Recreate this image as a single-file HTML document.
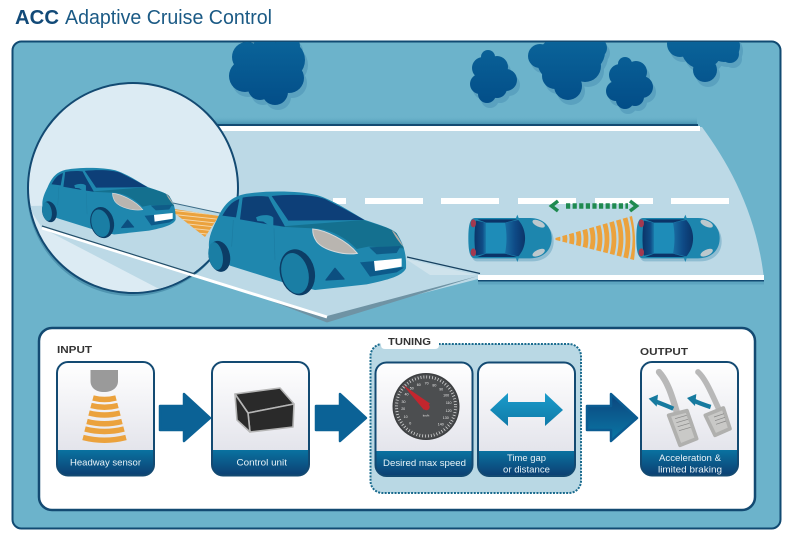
<!DOCTYPE html>
<html lang="en">
<head>
<meta charset="utf-8">
<title>ACC Adaptive Cruise Control</title>
<style>
html,body{margin:0;padding:0;background:#fff;width:800px;height:535px;overflow:hidden}
svg{display:block}
text{font-family:"Liberation Sans",sans-serif}
.lab{font-size:9.5px;fill:#e8f2f7}
.head{font-size:10.5px;font-weight:bold;fill:#333}
.num{font-size:3.6px;fill:#e8e8e8;text-anchor:middle}
</style>
</head>
<body>
<svg width="800" height="535" viewBox="0 0 800 535" xmlns="http://www.w3.org/2000/svg">
<defs>
  <linearGradient id="cloudG" gradientUnits="userSpaceOnUse" x1="0" y1="42" x2="0" y2="110"><stop offset="0" stop-color="#0a6399"/><stop offset="1" stop-color="#024c87"/></linearGradient>
  <linearGradient id="cardG" x1="0" y1="0" x2="0" y2="1"><stop offset="0" stop-color="#ffffff"/><stop offset="1" stop-color="#dcdde6"/></linearGradient>
  <linearGradient id="bandG" x1="0" y1="0" x2="0" y2="1"><stop offset="0" stop-color="#0a72a0"/><stop offset="1" stop-color="#0c3f72"/></linearGradient>
  <linearGradient id="arr3G" x1="0" y1="0" x2="0" y2="1"><stop offset="0" stop-color="#0c447c"/><stop offset="1" stop-color="#0a78a6"/></linearGradient>
  <linearGradient id="dblG" x1="0" y1="0" x2="0" y2="1"><stop offset="0" stop-color="#1b9ccb"/><stop offset="1" stop-color="#0f7aa8"/></linearGradient>
  <linearGradient id="wsG" x1="0" y1="0" x2="1" y2="0"><stop offset="0" stop-color="#0b3468"/><stop offset=".7" stop-color="#0f4c86"/><stop offset="1" stop-color="#1a7aaa"/></linearGradient>
  <linearGradient id="wsG2" x1="0" y1="0" x2="1" y2="0"><stop offset="0" stop-color="#1a6ea3"/><stop offset=".5" stop-color="#0e4a86"/><stop offset="1" stop-color="#0b3468"/></linearGradient>
  <linearGradient id="topShade" x1="0" y1="0" x2="0" y2="1"><stop offset="0" stop-color="#6cb3cb" stop-opacity="0"/><stop offset="1" stop-color="#3f8cac"/></linearGradient>
  <clipPath id="panelClip"><rect x="13" y="42" width="767" height="486" rx="8"/></clipPath>
  <clipPath id="circClip"><circle cx="133" cy="188" r="104"/></clipPath>
  <clipPath id="coneClip"><path d="M552,239 L632,216 Q637,238 634,260 Z"/></clipPath>
  <clipPath id="miniCone"><path d="M168,208 L219,216 L205,237 Z"/></clipPath>

  <g id="c1"><circle cx="247" cy="57" r="15"/><circle cx="245" cy="76" r="16"/><circle cx="266" cy="70" r="27"/><circle cx="285" cy="60" r="20"/><circle cx="289" cy="78" r="15"/><circle cx="275" cy="92" r="13"/><circle cx="260" cy="88" r="12"/><circle cx="290" cy="46" r="10"/><circle cx="265" cy="48" r="12"/></g>
  <g id="c2"><circle cx="488" cy="57" r="7"/><circle cx="483" cy="68" r="11"/><circle cx="497" cy="67" r="11"/><circle cx="506" cy="80" r="11"/><circle cx="480" cy="84" r="10"/><circle cx="493" cy="78" r="16"/><circle cx="487" cy="94" r="9"/><circle cx="497" cy="88" r="10"/></g>
  <g id="c3"><circle cx="540" cy="56" r="12"/><circle cx="560" cy="60" r="23"/><circle cx="585" cy="52" r="20"/><circle cx="597" cy="48" r="10"/><circle cx="585" cy="66" r="16"/><circle cx="568" cy="86" r="14"/><circle cx="555" cy="76" r="13"/></g>
  <g id="c4"><circle cx="625" cy="64" r="7"/><circle cx="620" cy="75" r="11"/><circle cx="636" cy="72" r="11"/><circle cx="642" cy="87" r="11"/><circle cx="616" cy="91" r="10"/><circle cx="630" cy="84" r="17"/><circle cx="625" cy="100" r="9"/><circle cx="635" cy="97" r="9"/></g>
  <g id="c5"><circle cx="680" cy="44" r="13"/><circle cx="702" cy="48" r="21"/><circle cx="724" cy="46" r="16"/><circle cx="705" cy="70" r="12"/><circle cx="730" cy="54" r="9"/></g>

  <g id="car">
    <path d="M28,195 C22,165 35,135 50,105 C70,60 90,38 130,28 C200,15 300,18 350,30 C400,45 450,80 495,105 C540,120 575,130 590,145 C610,175 620,205 618,250 C605,275 560,285 500,298 L345,315 L250,292 L90,242 L30,205 Z" fill="#1f87ae"/>
    <ellipse cx="58" cy="214" rx="32" ry="47" fill="#0c3d66" transform="rotate(-12 58 214)"/>
    <ellipse cx="47" cy="213" rx="21" ry="42" fill="#1a7ea4" transform="rotate(-10 47 213)"/>
    <path d="M235,125 L490,105 C540,122 575,130 590,145 L612,190 L505,185 L470,192 C430,150 380,130 340,130 Z" fill="#14708f"/>
    <path d="M215,33 C280,26 345,30 375,42 C420,65 460,85 493,105 L265,107 Z" fill="#0d3f78"/>
    <path d="M67,92 C85,60 100,48 118,42 L108,97 Z" fill="#0d4076"/>
    <path d="M128,38 C150,33 185,32 205,35 C225,75 245,105 255,125 L215,120 L120,103 Z" fill="#0d4076"/>
    <path d="M168,97 C185,88 212,88 220,98 L220,128 L205,120 L190,110 L172,108 Z" fill="#1f88ae"/>
    <path d="M100,105 L95,185 M222,130 L225,225" stroke="#1c7ca2" stroke-width="2" fill="none"/>
    <path d="M338,132 C375,135 440,165 472,205 C430,212 370,195 350,170 C340,155 338,145 338,132 Z" fill="#b9b5b0" stroke="#d5d9db" stroke-width="3"/>
    <path d="M575,135 C590,145 600,165 610,185 C595,170 583,150 575,135Z" fill="#b3aca6"/>
    <path d="M508,187 L602,183 L590,204 L530,208 Z" fill="#0f5c88"/>
    <path d="M480,232 L525,228 L525,258 L605,247 L612,248 L590,262 L510,275 Z" fill="#0d5a8a"/>
    <path d="M522,228 L605,220 L605,245 L525,258 Z" fill="#fff"/>
    <path d="M378,285 L405,250 L432,282 Z" fill="#0c4f80" stroke="#0c4f80" stroke-width="4" stroke-linejoin="round"/>
    <ellipse cx="292" cy="262" rx="52" ry="70" fill="#0c3d66" transform="rotate(-14 292 262)"/>
    <ellipse cx="285" cy="265" rx="40" ry="62" fill="#1a7ea4" transform="rotate(-14 285 265)"/>
  </g>

  <g id="topcar">
    <path d="M45,84 L210,84 C250,84 275,110 275,145 C275,180 250,205 210,205 L45,205 C30,205 25,185 25,145 C25,105 30,84 45,84Z" fill="#8fbdd2" transform="translate(6,9)"/>
    <path d="M45,84 L210,84 C250,84 275,110 275,145 C275,180 250,205 210,205 L45,205 C30,205 25,185 25,145 C25,105 30,84 45,84Z" fill="#1d86ae"/>
    <rect x="70" y="96" width="75" height="97" fill="#1e8cb8"/>
    <path d="M52,88 L172,88 L135,98 L78,98 Z" fill="#0b3468"/>
    <path d="M52,201 L172,201 L135,191 L78,191 Z" fill="#0b3468"/>
    <path d="M48,92 L78,98 L78,191 L48,197 C42,170 42,120 48,92Z" fill="url(#wsG)"/>
    <path d="M135,98 L175,90 C202,120 202,170 175,199 L135,191 C141,160 141,130 135,98Z" fill="url(#wsG2)"/>
    <ellipse cx="236" cy="101" rx="20" ry="9" fill="#bcc8cd" transform="rotate(25 236 101)"/>
    <ellipse cx="236" cy="188" rx="20" ry="9" fill="#bcc8cd" transform="rotate(-25 236 188)"/>
    <ellipse cx="40" cy="100" rx="8" ry="12" fill="#a33a50"/>
    <ellipse cx="40" cy="187" rx="8" ry="12" fill="#a33a50"/>
    <path d="M172,74 L176,84 L168,84Z M172,216 L176,205 L168,205Z" fill="#1d86ae"/>
  </g>

  <g id="arrow"><path d="M160,406 L184,406 L184,394 L210,418 L184,441 L184,430 L160,430 Z" stroke="#0b6296" stroke-width="2.500" stroke-linejoin="round" fill="#0b6296"/></g>
</defs>

<!-- Title -->
<text x="15" y="24" font-size="20" font-weight="bold" fill="#124a78" textLength="44" lengthAdjust="spacingAndGlyphs">ACC</text>
<text x="65" y="24" font-size="20" fill="#1b5a85" textLength="207" lengthAdjust="spacingAndGlyphs">Adaptive Cruise Control</text>

<!-- Panel -->
<rect x="12.500" y="41.500" width="768" height="487" rx="9" fill="#6cb3cb" stroke="#114a72" stroke-width="2"/>

<!-- Clouds -->
<g clip-path="url(#panelClip)">
  <g fill="#5aa1bf" transform="translate(3,5)"><use href="#c1"/><use href="#c2"/><use href="#c3"/><use href="#c4"/><use href="#c5"/></g>
  <g fill="url(#cloudG)"><use href="#c1"/><use href="#c2"/><use href="#c3"/><use href="#c4"/><use href="#c5"/></g>
</g>

<!-- Road -->
<rect x="215" y="116" width="482" height="9" fill="url(#topShade)"/>
<path d="M220,127 L702,127 C730,165 757,215 764,279 L478,279 L327,318 L42,228 Z" fill="#bcd9e6"/>
<rect x="215" y="124" width="483" height="2" fill="#134a72"/>
<path d="M215,128.500 L700,128.500" stroke="#fff" stroke-width="5"/>
<path d="M478,277.500 L764,277.500" stroke="#fff" stroke-width="5"/>
<path d="M478,281 L764,281" stroke="#134a72" stroke-width="2"/>
<path d="M478,283 L764,283" stroke="#5ea5c0" stroke-width="3"/>

<!-- Dashes -->
<g fill="#fff">
  <rect x="333" y="198" width="13" height="6"/><rect x="365" y="198" width="58" height="6"/>
  <rect x="441" y="198" width="58" height="6"/><rect x="518" y="198" width="58" height="6"/>
  <rect x="595" y="198" width="58" height="6"/><rect x="671" y="198" width="58" height="6"/>
</g>

<!-- Magnifier circle -->
<circle cx="132" cy="191" r="105" fill="#4f94b0"/>
<circle cx="133" cy="188" r="105" fill="#dcebf3" stroke="#134a72" stroke-width="2"/>
<g clip-path="url(#circClip)">
  <path d="M28,206 L173,203 L238,217 L238,330 L42,228 Z" fill="#bcd9e6"/>
</g>

<!-- Near road edges -->
<path d="M173,203 L222,213.500" stroke="#3c6c87" stroke-width="1"/>
<path d="M407,257 L480,273.500" stroke="#16405f" stroke-width="1.200"/>
<path d="M405,258.500 L476,275 L430,275 Z" fill="#cfe3ec"/>
<path d="M478,276 L327,316 L240,289 L327,322.500 Z" fill="#6f93a4"/>
<path d="M42,228 L327,317" stroke="#fff" stroke-width="3"/>
<path d="M42,226 L195,274" stroke="#24506b" stroke-width="1.200"/>

<!-- Mini cone -->
<path d="M168,208 L219,216 L205,237 Z" fill="#eba23d"/>
<g clip-path="url(#miniCone)" stroke="#f5d9ae" stroke-width=".9">
  <path d="M160,209 L225,216 M160,213 L225,220 M160,217 L225,224 M160,221 L225,228 M160,225 L225,232 M160,229 L225,236"/>
</g>

<!-- Cars side view -->
<use href="#car" transform="translate(42,168) scale(.2253) translate(-25,-20)"/>
<use href="#car" transform="translate(200,185) scale(.33333)"/>

<!-- Top view cars -->
<use href="#topcar" transform="translate(460,190) scale(.33333)"/>
<use href="#topcar" transform="translate(628,190) scale(.33333)"/>

<!-- Radar cone -->
<g clip-path="url(#coneClip)" fill="none" stroke="#eba23d" stroke-width="4.800">
  <circle cx="552" cy="239" r="6"/><circle cx="552" cy="239" r="13"/><circle cx="552" cy="239" r="20"/>
  <circle cx="552" cy="239" r="27"/><circle cx="552" cy="239" r="34"/><circle cx="552" cy="239" r="41"/>
  <circle cx="552" cy="239" r="48"/><circle cx="552" cy="239" r="55"/><circle cx="552" cy="239" r="62"/>
  <circle cx="552" cy="239" r="69"/><circle cx="552" cy="239" r="76"/><circle cx="552" cy="239" r="83"/>
</g>

<!-- Green gap arrow -->
<path d="M566,206 L628,206" stroke="#1f8a50" stroke-width="5.500" stroke-dasharray="4.200 2.400"/>
<path d="M558,201 L551.500,206 L558,211 M630,201 L636.500,206 L630,211" fill="none" stroke="#1f8a50" stroke-width="3.500"/>

<!-- Bottom panel -->
<rect x="39" y="328" width="716" height="182" rx="13" fill="#fff" stroke="#134a72" stroke-width="2.500"/>

<!-- Tuning box -->
<rect x="370.500" y="344" width="210.500" height="149" rx="12" fill="#b9d8e4" stroke="#1a6b8e" stroke-width="2" stroke-dasharray="2 1.300"/>
<path d="M381,336 L439,336 L439,345 Q439,349 435,349 L385,349 Q381,349 381,345 Z" fill="#fff"/>

<text x="57" y="353" class="head" textLength="35" lengthAdjust="spacingAndGlyphs">INPUT</text>
<text x="388" y="345" class="head" textLength="43" lengthAdjust="spacingAndGlyphs">TUNING</text>
<text x="640" y="355" class="head" textLength="48" lengthAdjust="spacingAndGlyphs">OUTPUT</text>

<!-- Cards -->
<g stroke="none">
  <rect x="57" y="362" width="97" height="113.500" rx="11" fill="url(#cardG)"/>
  <path d="M57,450 H154 V464.500 a11,11 0 0 1 -11,11 H68 a11,11 0 0 1 -11,-11 Z" fill="url(#bandG)"/>
  <rect x="212" y="362" width="97" height="113.500" rx="11" fill="url(#cardG)"/>
  <path d="M212,450 H309 V464.500 a11,11 0 0 1 -11,11 H223 a11,11 0 0 1 -11,-11 Z" fill="url(#bandG)"/>
  <rect x="375.500" y="362.500" width="97" height="113.500" rx="11" fill="url(#cardG)"/>
  <path d="M375.500,451 H472.500 V465 a11,11 0 0 1 -11,11 H386.500 a11,11 0 0 1 -11,-11 Z" fill="url(#bandG)"/>
  <rect x="478" y="362.500" width="97" height="113.500" rx="11" fill="url(#cardG)"/>
  <path d="M478,451 H575 V465 a11,11 0 0 1 -11,11 H489 a11,11 0 0 1 -11,-11 Z" fill="url(#bandG)"/>
  <rect x="641" y="362" width="97" height="113.500" rx="11" fill="url(#cardG)"/>
  <path d="M641,450 H738 V464.500 a11,11 0 0 1 -11,11 H652 a11,11 0 0 1 -11,-11 Z" fill="url(#bandG)"/>
</g>
<g fill="none" stroke="#134a72" stroke-width="2">
  <rect x="57" y="362" width="97" height="113.500" rx="11"/>
  <rect x="212" y="362" width="97" height="113.500" rx="11"/>
  <rect x="375.500" y="362.500" width="97" height="113.500" rx="11"/>
  <rect x="478" y="362.500" width="97" height="113.500" rx="11"/>
  <rect x="641" y="362" width="97" height="113.500" rx="11"/>
</g>

<!-- Card labels -->
<text x="70" y="465.500" class="lab" textLength="71" lengthAdjust="spacingAndGlyphs">Headway sensor</text>
<text x="236.500" y="465.500" class="lab" textLength="50.500" lengthAdjust="spacingAndGlyphs">Control unit</text>
<text x="383" y="466" class="lab" textLength="83" lengthAdjust="spacingAndGlyphs">Desired max speed</text>
<text x="507" y="461" class="lab" textLength="39" lengthAdjust="spacingAndGlyphs">Time gap</text>
<text x="503" y="472.500" class="lab" textLength="47" lengthAdjust="spacingAndGlyphs">or distance</text>
<text x="659" y="461" class="lab" textLength="62" lengthAdjust="spacingAndGlyphs">Acceleration &amp;</text>
<text x="658" y="472.500" class="lab" textLength="64" lengthAdjust="spacingAndGlyphs">limited braking</text>

<!-- Big arrows -->
<use href="#arrow"/>
<use href="#arrow" transform="translate(156,0)"/>
<path d="M587,406 L611,406 L611,394 L637,418 L611,441 L611,430 L587,430 Z" stroke="#0b5c92" stroke-width="2.500" stroke-linejoin="round" fill="url(#arr3G)"/>

<!-- Sensor -->
<path d="M90.500,370 H118 V381 C118,388 112,392 104,392 C96,392 90.500,388 90.500,381 Z" fill="#9a9a9a"/>
<g fill="none" stroke="#eba23d" stroke-width="5.500">
  <path d="M93,398 Q104.500,401 116,398"/>
  <path d="M91,405.500 Q104.500,409 118,405.500"/>
  <path d="M89,413 Q104.500,417 120,413"/>
  <path d="M87,421.500 Q104.500,426 122,421.500"/>
  <path d="M85,429 Q104.500,434 124,429"/>
  <path d="M83,437.500 Q104.500,443 126,437.500"/>
</g>

<!-- Control unit box -->
<g fill="#2a2a2a" stroke="#b5b5b5" stroke-width="1.600" stroke-linejoin="round">
  <path d="M235,394 L280,388 L294,404 L248,413 Z"/>
  <path d="M248,413 L294,404 L293,427 L250,432 Z"/>
  <path d="M235,394 L248,413 L250,432 L237,420 Z"/>
</g>

<!-- Speedometer -->
<circle cx="426" cy="406.500" r="33.500" fill="#3d3f41"/>
<circle cx="426" cy="406.500" r="32" fill="#4c4e50"/>
<circle cx="426" cy="406.500" r="29.500" fill="none" stroke="#e6e6e6" stroke-width="3" stroke-dasharray=".7 2.200"/>
<g>
  <text class="num" x="410.300" y="424.500">0</text><text class="num" x="405.600" y="418.200">10</text><text class="num" x="403.200" y="410.200">20</text>
  <text class="num" x="403.500" y="402.800">30</text><text class="num" x="406.500" y="395.500">40</text><text class="num" x="411.800" y="389.600">50</text>
  <text class="num" x="418.800" y="385.900">60</text><text class="num" x="426.600" y="384.700">70</text><text class="num" x="434.400" y="386.300">80</text>
  <text class="num" x="441.200" y="390.400">90</text><text class="num" x="446.100" y="396.600">100</text><text class="num" x="448.700" y="404">110</text>
  <text class="num" x="448.600" y="412">120</text><text class="num" x="445.800" y="419">130</text><text class="num" x="440.800" y="425.300">140</text>
  <text class="num" x="426" y="416.500" style="font-size:3px">km/h</text>
</g>
<path d="M403,385 L430,403.500 L424,410 Z" fill="#c3262e"/>
<circle cx="426.500" cy="407" r="3.200" fill="#c3262e"/>

<!-- Double arrow -->
<path d="M490,410 L508,393 L508,402 L545,402 L545,393 L563,410 L545,426 L545,417 L508,417 L508,426 Z" fill="url(#dblG)"/>

<!-- Pedals -->
<g transform="translate(640,362) scale(.33333)">
  <path d="M57,30 C85,60 98,110 112,155" fill="none" stroke="#b8b8b8" stroke-width="19" stroke-linecap="round"/>
  <path d="M174,30 C197,50 217,100 236,140" fill="none" stroke="#b8b8b8" stroke-width="17" stroke-linecap="round"/>
  <path d="M100,140 C78,130 55,122 42,116" fill="none" stroke="#167a9f" stroke-width="13"/>
  <path d="M26,110 L54,98 L50,134 Z" fill="#167a9f"/>
  <path d="M212,135 C190,128 170,120 157,114" fill="none" stroke="#167a9f" stroke-width="13"/>
  <path d="M141,108 L169,96 L165,132 Z" fill="#167a9f"/>
  <path d="M86,160 L141,146 L170,230 L120,250 Z" fill="#c9c9c7" stroke="#b0b0ae" stroke-width="11" stroke-linejoin="round"/>
  <path d="M105,170 L140,160 M109,182 L144,172 M113,194 L148,184 M117,206 L152,196" stroke="#858585" stroke-width="2"/>
  <path d="M196,160 L250,138 L270,200 L225,220 Z" fill="#c9c9c7" stroke="#b0b0ae" stroke-width="11" stroke-linejoin="round"/>
  <path d="M222,165 L252,155 M225,176 L255,166 M228,187 L258,177" stroke="#858585" stroke-width="2"/>
</g>
</svg>
</body>
</html>
